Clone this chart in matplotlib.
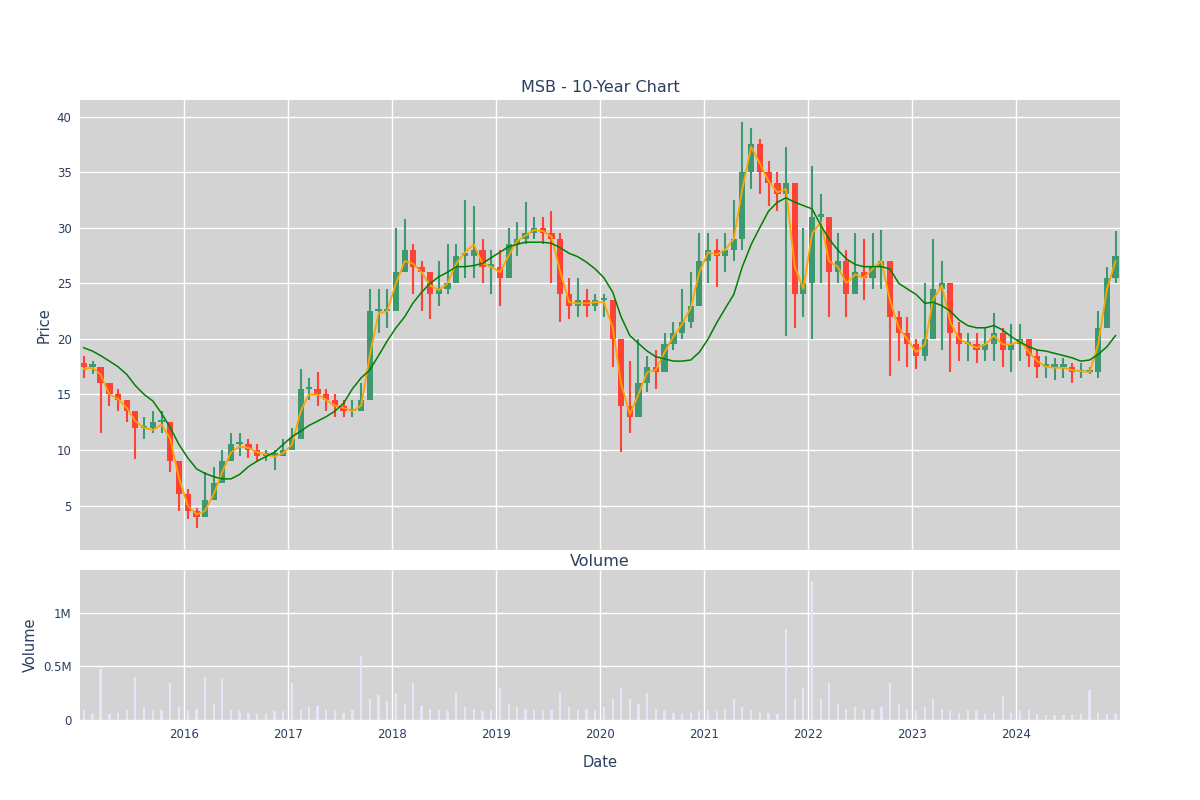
import matplotlib
matplotlib.use("Agg")
import matplotlib.pyplot as plt
import matplotlib.dates as mdates
import pandas as pd
import numpy as np

dates = pd.date_range("2015-01-01", periods=120, freq="MS") + pd.Timedelta(days=14)

closes = [17.5,17.5,16,15,14.5,13.5,12,12,12.5,12.5,9,6,
          4.5,4,5.5,7,9,10.5,10.5,10,9.5,9.5,9.5,10,
          11,15.5,15.5,15,14.5,14,13.5,13.5,14.5,22.5,22.5,22.5,
          26,28,26.5,26,24,24.5,25,27.5,27.5,28,26.5,26.5,
          25.5,28.5,29,29.5,30,29.5,29,24,23,23.5,23,23.5,
          23.5,20,14,13,16,17.5,17,19.5,20.5,21.5,23,27,
          28,27.5,28,29,35,37.5,35,34,33,34,24,25,
          31,31,26,27,24,26,25.5,26.5,27,22,20.5,19.5,
          18.5,20,24.5,25,20.5,19.5,19.5,19,19.5,20.5,19,19.5,
          20,18.5,17.5,17.5,17.5,17.5,17,17,17,21,25.5,27.5]
opens = [17.8] + closes[:-1]
highs = [18.5,18,17.5,16,15.5,14.5,13.5,13,13.5,13.5,12.5,9,
         6.5,4.8,8,8.5,10,11.5,11.5,11,10.5,10,10,11,
         12,17.3,16.5,17,15.5,15,14.5,14.5,16,24.5,24.5,24.5,
         30,30.8,28.5,27,26,27,28.5,28.5,32.5,32,29,28,
         28,30,30.5,32.3,31,31,31.5,29.5,25.5,25.5,24.5,24,
         24,23,20,18,20,18.5,19,20.5,21.5,24.5,26,29.5,
         29.5,29,29.5,32.5,39.5,39,38,36,35,37.3,34,30,
         35.6,33,29.5,29.5,28,29.5,29,29.5,29.8,27,22.5,22,
         20,25,29,27,23,21.5,20.5,20.5,21,22.3,21,21.3,
         21.3,20,19,18.5,18.3,18.3,17.8,17.8,17.5,22.5,26.5,29.7]
lows = [16.5,16.8,11.5,14,13.5,12.5,9.2,11,11.5,11.5,8,4.5,
        3.8,3.0,4.5,6,7.5,9.5,9.5,9.3,9,9,8.2,9.5,
        10,14,14.5,14,13.5,13,13,13,13.5,19.3,20.5,21,
        23.5,26,24,22.5,21.8,23,24,25,25.5,25.5,25,24,
        23,25.5,27.5,28.5,29,28.5,25,21.5,21.8,22,22,22.5,
        22,17.5,9.8,11.5,13,15.2,15.5,17,19,20,21,23,
        25,24.7,26,27,28,33.5,33,32,31.5,20.3,21,22,
        20,25,22,25,22,24.5,23.5,24.5,24.5,16.7,18,17.5,
        17.3,18,21.5,19,17,18,18,17.8,18,18,17.5,17,
        18,17.5,16.5,16.5,16.3,16.5,16,16.5,16.8,16.5,22,25]
ma_short = [17.3,17.4,16.8,15,14.6,13.8,12.6,12,11.8,12.3,11,7.5,
            5,4.2,4.5,6,8,9.8,10.3,10.2,9.8,9.6,9.4,9.7,
            10.5,13.5,15,15,14.5,14,13.8,13.5,14,18.5,22.3,22.5,
            25,27,26.8,26,24.8,24.4,25,26.8,27.8,28.5,26.8,26.5,
            26,27.5,28.8,29.3,29.8,29.7,29.2,26,23.3,23.2,23.2,23.3,
            23.3,21,16,13.2,15,17,17.2,18.8,20.2,21.3,22.8,26,
            27.8,27.6,28,29,33.5,37.3,35.8,34.2,33.2,33.5,26.5,24.5,
            29.5,30.5,27,26.5,25,25.8,25.5,26.3,27,23.5,21,20,
            18.8,19.5,23.5,24.8,21.5,20,19.6,19.2,19.5,20.3,19.5,19.5,
            19.8,18.8,18,17.5,17.4,17.4,17.2,17.1,17,19.5,24.5,27]
ma_long = [19.2,18.9,18.5,18,17.5,16.8,15.8,15,14.4,13.3,12,10.5,
           9.3,8.3,7.9,7.6,7.4,7.4,7.8,8.5,9,9.4,9.8,10.5,
           11.2,11.7,12.2,12.6,13,13.5,14.2,15.5,16.5,17.2,18.5,19.8,
           21,22,23.2,24.2,25,25.6,26,26.5,26.5,26.6,26.8,27.3,
           27.8,28.3,28.5,28.7,28.7,28.7,28.6,28.2,27.7,27.4,26.9,26.3,
           25.5,24.2,22,20.3,19.6,18.9,18.4,18.2,18,18,18.1,18.8,
           20,21.5,22.7,24,26.5,28.5,30,31.5,32.3,32.7,32.3,32,
           31.7,30.2,29,28,27.2,26.7,26.5,26.5,26.5,26.3,25,24.5,
           24,23.2,23.3,23,22.5,21.7,21.2,21,21,21.2,20.8,20.2,
           19.7,19.3,19,18.9,18.7,18.5,18.3,18,18.1,18.6,19.3,20.3]
volume_k = [90,60,480,60,70,90,400,120,80,90,350,120,
            80,100,400,150,380,90,80,70,60,60,80,80,
            350,90,120,130,90,80,70,90,600,200,230,180,
            250,150,350,130,100,90,80,250,120,100,80,90,
            300,150,120,100,90,80,90,250,120,90,100,90,
            120,200,300,200,150,250,100,80,70,60,70,80,
            90,80,100,200,120,90,80,70,60,850,200,300,
            1300,200,350,150,100,120,90,100,120,350,150,100,
            80,120,200,100,80,70,90,80,60,70,220,70,
            80,90,60,50,50,50,50,60,280,70,60,60]

up_col, dn_col = "#3D9970", "#FF4136"
bg, txt = "#d3d3d3", "#2a3f5f"

fig = plt.figure(figsize=(12, 8), dpi=100)
ax = fig.add_axes([0.0667, 0.3125, 0.8667, 0.5625])
axv = fig.add_axes([0.0667, 0.1, 0.8667, 0.1875], sharex=ax)

for a in (ax, axv):
    a.set_facecolor(bg)
    for s in a.spines.values():
        s.set_visible(False)
    a.grid(True, color="white", linewidth=1)
    a.set_axisbelow(True)
    a.tick_params(length=0, colors=txt, labelsize=8.5, pad=6)

xd = mdates.date2num(dates)
w = 22
for x, o, h, l, c in zip(xd, opens, highs, lows, closes):
    col = up_col if c >= o else dn_col
    ax.vlines(x, l, h, color=col, linewidth=1.5)
    ax.bar(x, abs(c - o) if c != o else 0.2, bottom=min(o, c), width=w, color=col)
ax.plot(dates, ma_short, color="orange", linewidth=1.3)
ax.plot(dates, ma_long, color="green", linewidth=1.1)
ax.set_ylim(1.0, 41.5)
ax.set_yticks([5, 10, 15, 20, 25, 30, 35, 40])
ax.set_ylabel("Price", color=txt, fontsize=10.5)
ax.set_title("MSB - 10-Year Chart", color=txt, fontsize=11.5)
plt.setp(ax.get_xticklabels(), visible=False)

axv.bar(dates, np.array(volume_k) * 1000, width=8, color="#e6e6fa")
axv.set_ylim(0, 1.4e6)
axv.set_yticks([0, 5e5, 1e6])
axv.set_yticklabels(["0", "0.5M", "1M"])
axv.set_ylabel("Volume", color=txt, fontsize=10.5)
axv.set_title("Volume", color=txt, fontsize=11.5, pad=3)
axv.set_xlabel("Date", color=txt, fontsize=10.5, labelpad=10)
axv.set_xlim(pd.Timestamp("2015-01-02"), pd.Timestamp("2024-12-31"))
axv.set_xticks([pd.Timestamp(f"{y}-01-01") for y in range(2016, 2025)])
axv.xaxis.set_major_formatter(mdates.DateFormatter("%Y"))

fig.savefig("out.png")
